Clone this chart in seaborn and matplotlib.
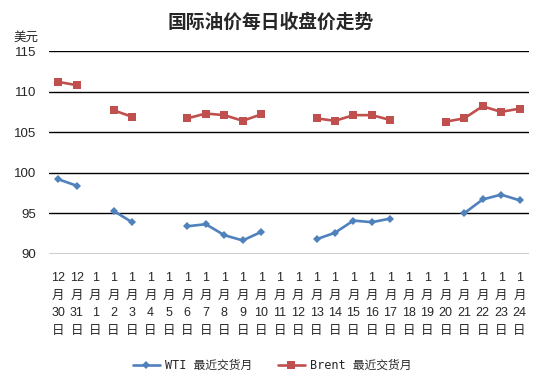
import numpy as np
import pandas as pd
import matplotlib
matplotlib.use("Agg")
import matplotlib.pyplot as plt
import seaborn as sns

# ---- data ----
dates = ["12月30日", "12月31日"] + [f"1月{d}日" for d in range(1, 25)]
wti = [99.2, 98.4, np.nan, 95.3, 93.9, np.nan, np.nan, 93.4, 93.65, 92.3, 91.65, 92.7,
       np.nan, np.nan, 91.8, 92.6, 94.1, 93.9, 94.35, np.nan, np.nan, np.nan,
       95.0, 96.7, 97.3, 96.6]
brent = [111.2, 110.8, np.nan, 107.7, 106.9, np.nan, np.nan, 106.7, 107.3, 107.1, 106.4, 107.2,
         np.nan, np.nan, 106.7, 106.4, 107.1, 107.1, 106.5, np.nan, np.nan, 106.3,
         106.7, 108.2, 107.5, 107.9]
series_names = ["WTI 最近交货月", "Brent 最近交货月"]
colors = ["#4F81BD", "#C0504D"]

sns.set_theme(style="white")
plt.rcParams['font.family'] = ['Liberation Sans', 'Noto Sans CJK SC', 'DejaVu Sans']

# long-format with segment ids so gaps are preserved
rows = []
for name, vals in zip(series_names, [wti, brent]):
    seg = 0
    prev_nan = True
    for i, v in enumerate(vals):
        if np.isnan(v):
            prev_nan = True
            continue
        if prev_nan:
            seg += 1
        prev_nan = False
        rows.append({"pos": i, "value": v, "series": name, "seg": f"{name}-{seg}"})
df = pd.DataFrame(rows)

fig = plt.figure(figsize=(5.44, 3.84), dpi=100)
ax = fig.add_axes([0.090, 0.339, 0.882, 0.528])

sns.lineplot(data=df, x="pos", y="value", hue="series", units="seg", estimator=None,
             style="series", markers={series_names[0]: "D", series_names[1]: "s"},
             dashes=False, palette=dict(zip(series_names, colors)),
             hue_order=series_names, style_order=series_names,
             linewidth=1.9, ax=ax, legend=False)
for line in ax.lines:
    if line.get_marker() == "D":
        line.set_markersize(4)
    else:
        line.set_markersize(5.5)
    line.set_markeredgewidth(0)

ax.set_xlim(-0.5, len(dates) - 0.5)
ax.set_ylim(90, 115)
ax.set_yticks([90, 95, 100, 105, 110, 115])
ax.yaxis.grid(True, color="black", linewidth=1)
ax.xaxis.grid(False)
for s in ax.spines.values():
    s.set_visible(False)

labels = []
for d in dates:
    m, rest = d.split("月")
    day = rest.replace("日", "")
    labels.append(f"{m}\n月\n{day}\n日")
ax.set_xticks(range(len(dates)))
ax.set_xticklabels(labels, fontsize=9, linespacing=1.62)
ax.tick_params(axis="x", length=0, pad=13)
ax.tick_params(axis="y", length=0, pad=9, labelsize=9.5)
ax.set_xlabel("")
ax.set_ylabel("")

fig.text(0.498, 0.943, "国际油价每日收盘价走势", ha="center", va="center",
         fontsize=13.5, fontweight="bold", family=['Noto Sans CJK SC'])
fig.text(0.024, 0.904, "美元", ha="left", va="center", fontsize=9,
         family=['Noto Sans CJK SC'])

from matplotlib.lines import Line2D
handles = [Line2D([], [], color=colors[0], marker="D", markersize=4, linewidth=1.9, markeredgewidth=0),
           Line2D([], [], color=colors[1], marker="s", markersize=5.5, linewidth=1.9, markeredgewidth=0)]
fig.legend(handles, series_names, loc="center", bbox_to_anchor=(0.5, 0.048), ncol=2,
           frameon=False, prop={"family": ['DejaVu Sans Mono', 'Noto Sans CJK SC'], "size": 8.5},
           handlelength=2.3, columnspacing=2.2, handletextpad=0.4)

fig.savefig("out.png", dpi=100)
